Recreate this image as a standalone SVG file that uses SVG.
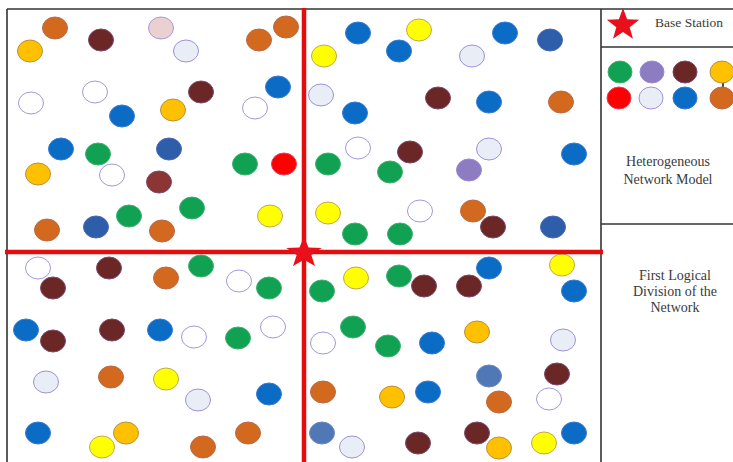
<svg xmlns="http://www.w3.org/2000/svg" width="733" height="462" viewBox="0 0 733 462">
<style>
ellipse{stroke-width:1}
.o{fill:#d2691e;stroke:#b86a4a}
.g{fill:#ffc000;stroke:#b89040}
.db{fill:#6b2626;stroke:#7a4a70}
.m{fill:#8b3535;stroke:#7a4a70}
.pk{fill:#ead0d0;stroke:#a89ad8}
.lt{fill:#e9edf6;stroke:#9d92d8}
.w{fill:#ffffff;stroke:#a497da}
.b{fill:#0b6cc6;stroke:#3a7ad0}
.dkb{fill:#2e5daa;stroke:#4a6ab8}
.sb{fill:#5078b6;stroke:#6a88c0}
.gr{fill:#10a252;stroke:#40b070}
.y{fill:#ffff00;stroke:#c0a850}
.r{fill:#ff0000;stroke:#e04060}
.pu{fill:#8e7cc3;stroke:#9a8ad0}
.frame{stroke:#333;stroke-width:1.6;fill:none}
.red{stroke:#e30d0d;stroke-width:4.5;fill:none}
.t{font-family:"Liberation Serif",serif;fill:#3a3a3a;text-anchor:middle}
</style>
<defs>
<path id="star" d="M0,-17 L4.11,-5.66 L16.17,-5.25 L6.66,2.16 L9.99,13.75 L0,7 L-9.99,13.75 L-6.66,2.16 L-16.17,-5.25 L-4.11,-5.66 Z" fill="#e8101a"/>
</defs>
<rect width="733" height="462" fill="#fff"/>
<g id="frame">
<line class="frame" x1="7" y1="9" x2="733" y2="9"/>
<line class="frame" x1="7" y1="9" x2="7" y2="462"/>
<line class="frame" x1="601" y1="9" x2="601" y2="462"/>
<line class="frame" x1="601" y1="47" x2="733" y2="47"/>
<line class="frame" x1="601" y1="224" x2="733" y2="224"/>
</g>
<g id="nodes">
<ellipse class="o" cx="55" cy="28" rx="12.5" ry="11"/>
<ellipse class="g" cx="30" cy="51" rx="12.5" ry="11"/>
<ellipse class="db" cx="101" cy="40" rx="12.5" ry="11"/>
<ellipse class="pk" cx="161" cy="28" rx="12.5" ry="11"/>
<ellipse class="lt" cx="186" cy="51" rx="12.5" ry="11"/>
<ellipse class="w" cx="31" cy="103" rx="12.5" ry="11"/>
<ellipse class="w" cx="95" cy="92" rx="12.5" ry="11"/>
<ellipse class="db" cx="201" cy="92" rx="12.5" ry="11"/>
<ellipse class="b" cx="122" cy="116" rx="12.5" ry="11"/>
<ellipse class="g" cx="173" cy="110" rx="12.5" ry="11"/>
<ellipse class="b" cx="61" cy="149" rx="12.5" ry="11"/>
<ellipse class="gr" cx="98" cy="154" rx="12.5" ry="11"/>
<ellipse class="dkb" cx="169" cy="149" rx="12.5" ry="11"/>
<ellipse class="g" cx="38" cy="174" rx="12.5" ry="11"/>
<ellipse class="w" cx="112" cy="175" rx="12.5" ry="11"/>
<ellipse class="m" cx="159" cy="182" rx="12.5" ry="11"/>
<ellipse class="gr" cx="192" cy="208" rx="12.5" ry="11"/>
<ellipse class="gr" cx="129" cy="216" rx="12.5" ry="11"/>
<ellipse class="o" cx="47" cy="230" rx="12.5" ry="11"/>
<ellipse class="dkb" cx="96" cy="227" rx="12.5" ry="11"/>
<ellipse class="o" cx="162" cy="231" rx="12.5" ry="11"/>
<ellipse class="o" cx="286" cy="27" rx="12.5" ry="11"/>
<ellipse class="o" cx="259" cy="40" rx="12.5" ry="11"/>
<ellipse class="b" cx="278" cy="87" rx="12.5" ry="11"/>
<ellipse class="w" cx="255" cy="108" rx="12.5" ry="11"/>
<ellipse class="gr" cx="245" cy="164" rx="12.5" ry="11"/>
<ellipse class="r" cx="284" cy="164" rx="12.5" ry="11"/>
<ellipse class="y" cx="270" cy="216" rx="12.5" ry="11"/>
<ellipse class="y" cx="324" cy="56" rx="12.5" ry="11"/>
<ellipse class="b" cx="358" cy="33" rx="12.5" ry="11"/>
<ellipse class="b" cx="399" cy="51" rx="12.5" ry="11"/>
<ellipse class="lt" cx="321" cy="95" rx="12.5" ry="11"/>
<ellipse class="b" cx="355" cy="113" rx="12.5" ry="11"/>
<ellipse class="w" cx="358" cy="148" rx="12.5" ry="11"/>
<ellipse class="db" cx="410" cy="152" rx="12.5" ry="11"/>
<ellipse class="gr" cx="328" cy="164" rx="12.5" ry="11"/>
<ellipse class="gr" cx="390" cy="172" rx="12.5" ry="11"/>
<ellipse class="y" cx="328" cy="213" rx="12.5" ry="11"/>
<ellipse class="gr" cx="355" cy="234" rx="12.5" ry="11"/>
<ellipse class="gr" cx="400" cy="234" rx="12.5" ry="11"/>
<ellipse class="y" cx="419" cy="30" rx="12.5" ry="11"/>
<ellipse class="b" cx="505" cy="33" rx="12.5" ry="11"/>
<ellipse class="dkb" cx="550" cy="40" rx="12.5" ry="11"/>
<ellipse class="lt" cx="472" cy="56" rx="12.5" ry="11"/>
<ellipse class="db" cx="438" cy="98" rx="12.5" ry="11"/>
<ellipse class="b" cx="489" cy="102" rx="12.5" ry="11"/>
<ellipse class="o" cx="561" cy="102" rx="12.5" ry="11"/>
<ellipse class="lt" cx="489" cy="149" rx="12.5" ry="11"/>
<ellipse class="b" cx="574" cy="154" rx="12.5" ry="11"/>
<ellipse class="pu" cx="469" cy="170" rx="12.5" ry="11"/>
<ellipse class="w" cx="420" cy="211" rx="12.5" ry="11"/>
<ellipse class="o" cx="473" cy="211" rx="12.5" ry="11"/>
<ellipse class="db" cx="493" cy="227" rx="12.5" ry="11"/>
<ellipse class="dkb" cx="553" cy="227" rx="12.5" ry="11"/>
<ellipse class="w" cx="38" cy="268" rx="12.5" ry="11"/>
<ellipse class="db" cx="109" cy="268" rx="12.5" ry="11"/>
<ellipse class="db" cx="53" cy="288" rx="12.5" ry="11"/>
<ellipse class="o" cx="166" cy="278" rx="12.5" ry="11"/>
<ellipse class="gr" cx="201" cy="266" rx="12.5" ry="11"/>
<ellipse class="b" cx="26" cy="330" rx="12.5" ry="11"/>
<ellipse class="db" cx="53" cy="341" rx="12.5" ry="11"/>
<ellipse class="db" cx="112" cy="330" rx="12.5" ry="11"/>
<ellipse class="b" cx="160" cy="330" rx="12.5" ry="11"/>
<ellipse class="w" cx="194" cy="337" rx="12.5" ry="11"/>
<ellipse class="lt" cx="46" cy="382" rx="12.5" ry="11"/>
<ellipse class="o" cx="111" cy="377" rx="12.5" ry="11"/>
<ellipse class="y" cx="166" cy="379" rx="12.5" ry="11"/>
<ellipse class="lt" cx="198" cy="400" rx="12.5" ry="11"/>
<ellipse class="b" cx="38" cy="433" rx="12.5" ry="11"/>
<ellipse class="g" cx="126" cy="433" rx="12.5" ry="11"/>
<ellipse class="y" cx="102" cy="447" rx="12.5" ry="11"/>
<ellipse class="o" cx="203" cy="447" rx="12.5" ry="11"/>
<ellipse class="w" cx="239" cy="281" rx="12.5" ry="11"/>
<ellipse class="gr" cx="269" cy="288" rx="12.5" ry="11"/>
<ellipse class="w" cx="273" cy="327" rx="12.5" ry="11"/>
<ellipse class="gr" cx="238" cy="338" rx="12.5" ry="11"/>
<ellipse class="b" cx="269" cy="394" rx="12.5" ry="11"/>
<ellipse class="o" cx="248" cy="433" rx="12.5" ry="11"/>
<ellipse class="gr" cx="322" cy="291" rx="12.5" ry="11"/>
<ellipse class="y" cx="356" cy="278" rx="12.5" ry="11"/>
<ellipse class="gr" cx="399" cy="276" rx="12.5" ry="11"/>
<ellipse class="gr" cx="353" cy="327" rx="12.5" ry="11"/>
<ellipse class="w" cx="323" cy="343" rx="12.5" ry="11"/>
<ellipse class="gr" cx="388" cy="346" rx="12.5" ry="11"/>
<ellipse class="o" cx="323" cy="392" rx="12.5" ry="11"/>
<ellipse class="g" cx="392" cy="397" rx="12.5" ry="11"/>
<ellipse class="sb" cx="322" cy="433" rx="12.5" ry="11"/>
<ellipse class="lt" cx="352" cy="447" rx="12.5" ry="11"/>
<ellipse class="b" cx="489" cy="268" rx="12.5" ry="11"/>
<ellipse class="y" cx="562" cy="265" rx="12.5" ry="11"/>
<ellipse class="db" cx="424" cy="286" rx="12.5" ry="11"/>
<ellipse class="db" cx="469" cy="286" rx="12.5" ry="11"/>
<ellipse class="b" cx="574" cy="291" rx="12.5" ry="11"/>
<ellipse class="g" cx="477" cy="332" rx="12.5" ry="11"/>
<ellipse class="lt" cx="563" cy="340" rx="12.5" ry="11"/>
<ellipse class="b" cx="432" cy="343" rx="12.5" ry="11"/>
<ellipse class="sb" cx="489" cy="376" rx="12.5" ry="11"/>
<ellipse class="db" cx="557" cy="374" rx="12.5" ry="11"/>
<ellipse class="b" cx="428" cy="392" rx="12.5" ry="11"/>
<ellipse class="o" cx="499" cy="402" rx="12.5" ry="11"/>
<ellipse class="w" cx="549" cy="399" rx="12.5" ry="11"/>
<ellipse class="db" cx="477" cy="433" rx="12.5" ry="11"/>
<ellipse class="b" cx="574" cy="433" rx="12.5" ry="11"/>
<ellipse class="db" cx="418" cy="443" rx="12.5" ry="11"/>
<ellipse class="g" cx="499" cy="448" rx="12.5" ry="11"/>
<ellipse class="y" cx="544" cy="443" rx="12.5" ry="11"/>
</g>
<g id="divisions">
<line class="red" x1="5" y1="252" x2="603" y2="252"/>
<line class="red" x1="304" y1="8" x2="304" y2="462"/>
<use href="#star" transform="translate(304,253) scale(1.1,0.95)"/>
</g>
<g id="legend">
<use href="#star" transform="translate(623,25)"/>
<text class="t" x="689" y="27" font-size="13.5">Base Station</text>
<ellipse class="gr" cx="620" cy="72" rx="12" ry="11"/>
<ellipse class="pu" cx="652" cy="72" rx="12" ry="11"/>
<ellipse class="db" cx="685" cy="72" rx="12" ry="11"/>
<line x1="723" y1="78" x2="723" y2="92" stroke="#111" stroke-width="1.5"/>
<ellipse class="g" cx="722" cy="72" rx="12" ry="11"/>
<ellipse class="r" cx="619" cy="98" rx="12" ry="11"/>
<ellipse class="lt" cx="651" cy="98" rx="12" ry="11"/>
<ellipse class="b" cx="685" cy="98" rx="12" ry="11"/>
<ellipse class="o" cx="722" cy="98" rx="12" ry="11"/>
<text class="t" x="668" y="166" font-size="14">Heterogeneous</text>
<text class="t" x="668" y="184" font-size="14">Network Model</text>
<text class="t" x="675" y="280" font-size="14">First Logical</text>
<text class="t" x="675" y="296" font-size="14">Division of the</text>
<text class="t" x="675" y="312" font-size="14">Network</text>
</g>
</svg>
